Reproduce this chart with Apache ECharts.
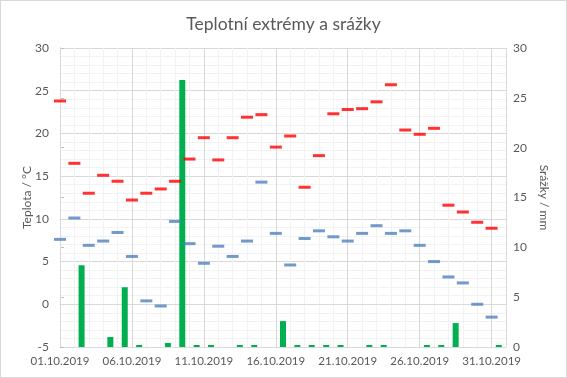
<!DOCTYPE html>
<html>
<head>
<meta charset="utf-8">
<script src="https://cdn.jsdelivr.net/npm/echarts@6/dist/echarts.min.js"></script>
<style>
  html, body { margin: 0; padding: 0; background: #fff; }
  #chart { width: 567px; height: 378px; }
  #frame { position: absolute; left: 0; top: 0; width: 567px; height: 378px; box-sizing: border-box; border: 1px solid #d9d9d9; pointer-events: none; }
</style>
</head>
<body>
<div id="chart"></div>
<div id="frame"></div>
<script>
// dny v mesici (popisky osy x)
var days = [
  '01.10.2019', '02.10.2019', '03.10.2019', '04.10.2019', '05.10.2019',
  '06.10.2019', '07.10.2019', '08.10.2019', '09.10.2019', '10.10.2019',
  '11.10.2019', '12.10.2019', '13.10.2019', '14.10.2019', '15.10.2019',
  '16.10.2019', '17.10.2019', '18.10.2019', '19.10.2019', '20.10.2019',
  '21.10.2019', '22.10.2019', '23.10.2019', '24.10.2019', '25.10.2019',
  '26.10.2019', '27.10.2019', '28.10.2019', '29.10.2019', '30.10.2019',
  '31.10.2019'
]

// maximalni teplota / °C
var tMax = [
  23.8, 16.5, 13.0, 15.1, 14.4, 12.2, 13.0, 13.5, 14.4, 17.0,
  19.5, 16.9, 19.5, 21.9, 22.2, 18.4, 19.7, 13.7, 17.4, 22.3,
  22.8, 22.9, 23.7, 25.7, 20.4, 19.9, 20.6, 11.6, 10.8, 9.6,
  8.9
]

// minimalni teplota / °C
var tMin = [
  7.6, 10.1, 6.9, 7.4, 8.4, 5.6, 0.4, -0.2, 9.7, 7.1,
  4.8, 6.8, 5.6, 7.4, 14.3, 8.3, 4.6, 7.7, 8.6, 7.9,
  7.4, 8.3, 9.2, 8.3, 8.6, 6.9, 5.0, 3.2, 2.5, 0.0,
  -1.5
]

// srazky / mm
var rain = [
  0, 8.2, 0, 1.0, 6.0, 0.2, 0, 0.4, 26.8, 0.2,
  0.2, 0, 0.2, 0.2, 0, 2.6, 0.2, 0.2, 0.2, 0.2,
  0, 0.2, 0.2, 0, 0, 0.2, 0.2, 2.4, 0, 0,
  0.2
]

var txt = '#595959'
var font = 'Lato'

var chart = echarts.init(document.getElementById('chart'))
chart.setOption({
  animation: false,
  textStyle: { fontFamily: font },
  title: {
    text: 'Teplotní extrémy a srážky',
    left: 'center',
    top: 10,
    textStyle: { color: txt, fontSize: 17.5, fontWeight: 'normal', fontFamily: font }
  },
  grid: { left: 60, right: 61, top: 48, bottom: 31 },
  xAxis: [
    {
      type: 'value',
      min: 0,
      max: days.length,
      interval: 5,
      z: 1,
      axisLine: { show: true, lineStyle: { color: '#d9d9d9' } },
      axisTick: { show: false },
      axisLabel: {
        color: txt,
        fontSize: 11.5,
        margin: 8,
        formatter: function (v) { return days[v] || '' }
      },
      splitLine: { show: true, lineStyle: { color: '#d9d9d9' } }
    },
    {
      // jemna mrizka po dnech
      type: 'value',
      min: 0,
      max: days.length,
      interval: 1,
      z: 0,
      axisLine: { show: false },
      axisTick: { show: false },
      axisLabel: { show: false },
      splitLine: { show: true, lineStyle: { color: '#f2f2f2' } }
    }
  ],
  yAxis: [
    {
      type: 'value',
      min: -5,
      max: 30,
      interval: 5,
      name: 'Teplota / °C',
      nameLocation: 'middle',
      nameGap: 27,
      nameMoveOverlap: false,
      nameTextStyle: { color: txt, fontSize: 12, fontFamily: font },
      axisLine: { show: true, lineStyle: { color: '#d9d9d9' } },
      axisTick: { show: false },
      axisLabel: { color: txt, fontSize: 12, margin: 11 },
      splitLine: { show: true, lineStyle: { color: '#d9d9d9' } },
      minorTick: { show: false, splitNumber: 5 },
      minorSplitLine: { show: true, lineStyle: { color: '#f2f2f2' } }
    },
    {
      type: 'value',
      min: 0,
      max: 30,
      interval: 5,
      position: 'right',
      name: 'Srážky / mm',
      nameLocation: 'middle',
      nameRotate: -90,
      nameGap: 32,
      nameMoveOverlap: false,
      nameTextStyle: { color: txt, fontSize: 12, fontFamily: font },
      axisLine: { show: true, lineStyle: { color: '#bfbfbf' } },
      axisTick: { show: true, length: 4, lineStyle: { color: '#bfbfbf' } },
      axisLabel: { color: txt, fontSize: 12, margin: 7 },
      splitLine: { show: false }
    }
  ],
  series: [
    {
      name: 'Srážky',
      type: 'bar',
      xAxisIndex: 0,
      yAxisIndex: 1,
      barWidth: 6,
      itemStyle: { color: '#00b050' },
      data: rain.map(function (v, i) { return [i + 0.5, v] })
    },
    {
      name: 'Max',
      type: 'scatter',
      symbol: 'rect',
      symbolSize: [12, 3],
      itemStyle: { color: '#ff0000' },
      data: tMax.map(function (v, i) { return [i, v] })
    },
    {
      name: 'Min',
      type: 'scatter',
      symbol: 'rect',
      symbolSize: [12, 3],
      itemStyle: { color: '#4f81bd' },
      data: tMin.map(function (v, i) { return [i, v] })
    }
  ]
})
</script>
</body>
</html>
